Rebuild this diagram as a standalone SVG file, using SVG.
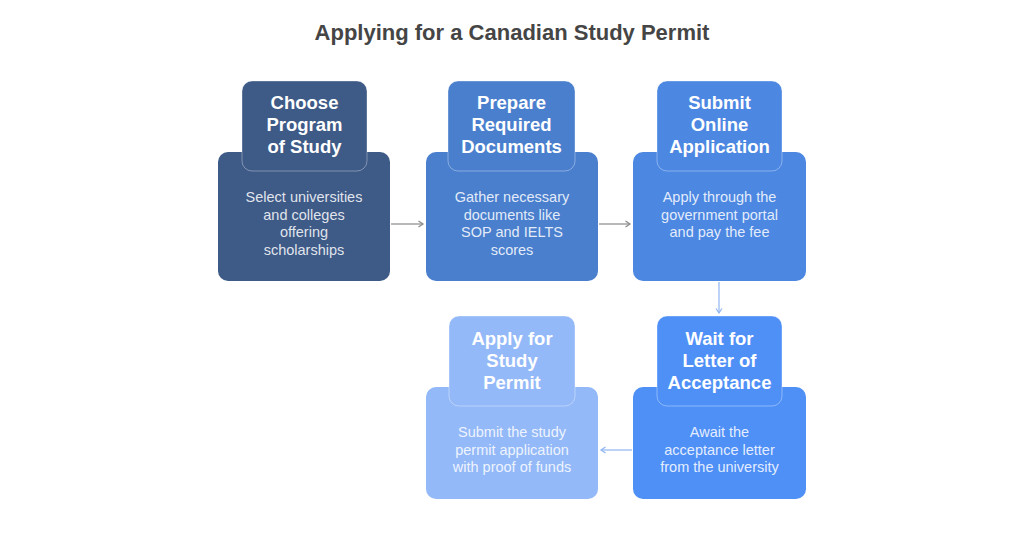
<svg xmlns="http://www.w3.org/2000/svg" width="1024" height="536" viewBox="0 0 1024 536">
<defs>
<style>
.title{font-family:"Liberation Sans",Arial,sans-serif;font-weight:bold;font-size:22px;fill:#454545;text-anchor:middle}
.head{font-family:"Liberation Sans",Arial,sans-serif;font-weight:bold;font-size:18.5px;fill:#ffffff;text-anchor:middle}
.body{font-family:"Liberation Sans",Arial,sans-serif;font-size:14.5px;fill:#ffffff;fill-opacity:0.86;text-anchor:middle}
.hbox{stroke:#ffffff;stroke-opacity:0.35;stroke-width:1}
.conn{fill:none;stroke-width:1.2}
</style>
<marker id="ag" markerWidth="10" markerHeight="10" refX="7" refY="5" orient="auto" markerUnits="userSpaceOnUse">
<path d="M2.5,2 L7,5 L2.5,8" fill="none" stroke="#8a8a8a" stroke-width="1.2"/>
</marker>
<marker id="ab" markerWidth="10" markerHeight="10" refX="7" refY="5" orient="auto" markerUnits="userSpaceOnUse">
<path d="M2.5,2 L7,5 L2.5,8" fill="none" stroke="#8fb4f2" stroke-width="1.2"/>
</marker>
</defs>
<rect width="1024" height="536" fill="#ffffff"/>
<text class="title" x="512" y="40">Applying for a Canadian Study Permit</text>

<g id="connectors">
<line class="conn" x1="391" y1="224" x2="423" y2="224" stroke="#8a8a8a" marker-end="url(#ag)"/>
<line class="conn" x1="599" y1="224" x2="630" y2="224" stroke="#8a8a8a" marker-end="url(#ag)"/>
<line class="conn" x1="719" y1="282" x2="719" y2="313" stroke="#8fb4f2" marker-end="url(#ab)"/>
<line class="conn" x1="632" y1="450" x2="601" y2="450" stroke="#8fb4f2" marker-end="url(#ab)"/>
</g>

<g id="node1">
<rect x="218" y="152" width="172" height="129" rx="10" fill="#3e5a87"/>
<rect class="hbox" x="242" y="81" width="125" height="90" rx="10" fill="#3e5a87"/>
<text class="head" x="304.5" y="109">Choose</text>
<text class="head" x="304.5" y="131">Program</text>
<text class="head" x="304.5" y="153">of Study</text>
<text class="body" x="304" y="202">Select universities</text>
<text class="body" x="304" y="220">and colleges</text>
<text class="body" x="304" y="237">offering</text>
<text class="body" x="304" y="255">scholarships</text>
</g>

<g id="node2">
<rect x="426" y="152" width="172" height="129" rx="10" fill="#4a7fce"/>
<rect class="hbox" x="448" y="81" width="127" height="90" rx="10" fill="#4a7fce"/>
<text class="head" x="511.5" y="109">Prepare</text>
<text class="head" x="511.5" y="131">Required</text>
<text class="head" x="511.5" y="153">Documents</text>
<text class="body" x="512" y="202">Gather necessary</text>
<text class="body" x="512" y="220">documents like</text>
<text class="body" x="512" y="237">SOP and IELTS</text>
<text class="body" x="512" y="255">scores</text>
</g>

<g id="node3">
<rect x="633" y="152" width="173" height="129" rx="10" fill="#4c87e2"/>
<rect class="hbox" x="657" y="81" width="125" height="90" rx="10" fill="#4c87e2"/>
<text class="head" x="719.5" y="109">Submit</text>
<text class="head" x="719.5" y="131">Online</text>
<text class="head" x="719.5" y="153">Application</text>
<text class="body" x="719.5" y="202">Apply through the</text>
<text class="body" x="719.5" y="220">government portal</text>
<text class="body" x="719.5" y="237">and pay the fee</text>
</g>

<g id="node4">
<rect x="633" y="387" width="173" height="112" rx="10" fill="#4f90f7"/>
<rect class="hbox" x="657" y="316" width="125" height="90" rx="10" fill="#4f90f7"/>
<text class="head" x="719.5" y="345">Wait for</text>
<text class="head" x="719.5" y="367">Letter of</text>
<text class="head" x="719.5" y="389">Acceptance</text>
<text class="body" x="719.5" y="437">Await the</text>
<text class="body" x="719.5" y="455">acceptance letter</text>
<text class="body" x="719.5" y="472">from the university</text>
</g>

<g id="node5">
<rect x="426" y="387" width="172" height="112" rx="10" fill="#94b9f8"/>
<rect class="hbox" x="449" y="316" width="126" height="90" rx="10" fill="#94b9f8"/>
<text class="head" x="512" y="345">Apply for</text>
<text class="head" x="512" y="367">Study</text>
<text class="head" x="512" y="389">Permit</text>
<text class="body" x="512" y="437">Submit the study</text>
<text class="body" x="512" y="455">permit application</text>
<text class="body" x="512" y="472">with proof of funds</text>
</g>
</svg>
